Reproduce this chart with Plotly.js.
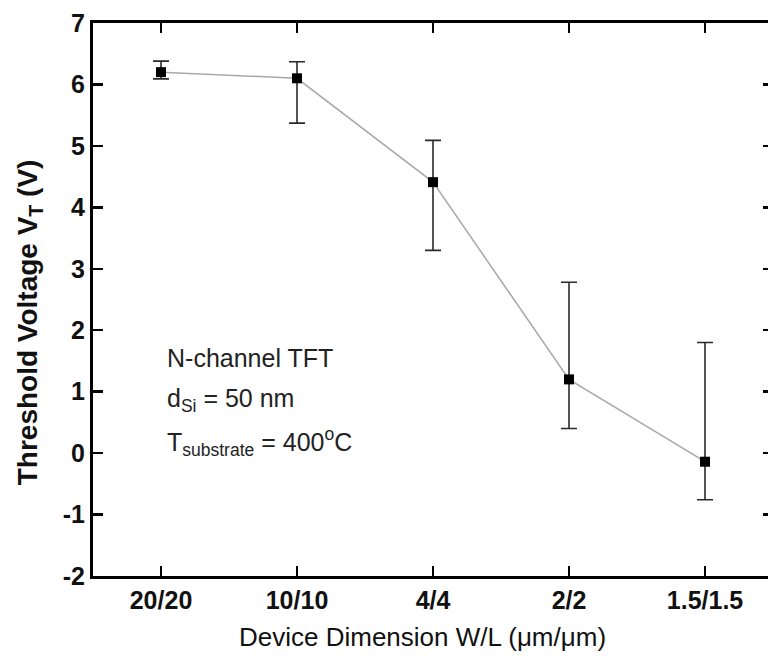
<!DOCTYPE html>
<html>
<head>
<meta charset="utf-8">
<script src="https://cdn.plot.ly/plotly-3.0.1.min.js"></script>
<style>
html,body{margin:0;padding:0;overflow:hidden;background:#fff;}
#chart{width:780px;height:660px;}
</style>
</head>
<body>
<div id="chart"></div>
<script>
// Data
var categories = ["20/20", "10/10", "4/4", "2/2", "1.5/1.5"];
var vtValues   = [6.20, 6.10, 4.41, 1.20, -0.14];
var errTop     = [6.38, 6.37, 5.09, 2.78, 1.80];
var errBottom  = [6.09, 5.37, 3.30, 0.40, -0.76];
var yTicks     = [-2, -1, 0, 1, 2, 3, 4, 5, 6, 7];

var errPlus  = errTop.map(function(t, i){ return +(t - vtValues[i]).toFixed(3); });
var errMinus = errBottom.map(function(b, i){ return +(vtValues[i] - b).toFixed(3); });

var trace = {
  x: categories,
  y: vtValues,
  type: 'scatter',
  mode: 'lines+markers',
  line: {color: '#a8a8a8', width: 1.5},
  marker: {symbol: 'square', size: 10, color: '#000'},
  error_y: {
    type: 'data',
    symmetric: false,
    array: errPlus,
    arrayminus: errMinus,
    color: '#2a2a2a',
    thickness: 1.6,
    width: 8
  },
  showlegend: false,
  hoverinfo: 'x+y'
};

var axisFont = {family: 'Liberation Sans, Arial, sans-serif', size: 25, color: '#111', weight: 'bold'};
var noteFont = {family: 'Liberation Sans, Arial, sans-serif', size: 25, color: '#222'};

var layout = {
  width: 780,
  height: 660,
  margin: {l: 93, r: 7, t: 23, b: 84},
  paper_bgcolor: '#fff',
  plot_bgcolor: '#fff',
  xaxis: {
    type: 'category',
    categoryorder: 'array',
    categoryarray: categories,
    range: [-0.5, 4.5],
    showline: true, linecolor: '#000', linewidth: 3,
    mirror: 'ticks',
    ticks: 'inside', ticklen: 10, tickwidth: 2.5, tickcolor: '#000',
    tickfont: axisFont,
    showgrid: false, zeroline: false
  },
  yaxis: {
    range: [-2, 7],
    tickvals: yTicks,
    ticktext: yTicks.map(String),
    showline: true, linecolor: '#000', linewidth: 3,
    mirror: 'ticks',
    ticks: 'inside', ticklen: 10, tickwidth: 2.5, tickcolor: '#000',
    tickfont: axisFont,
    showgrid: false, zeroline: false
  },
  annotations: [
    {xref: 'paper', yref: 'paper', x: 0.484, y: -0.11, xanchor: 'center', yanchor: 'middle',
     text: 'Device Dimension W/L (\u03bcm/\u03bcm)', showarrow: false,
     font: {family: 'Liberation Sans, Arial, sans-serif', size: 26, color: '#111'}},
    {xref: 'paper', yref: 'paper', x: -0.094, y: 0.459, xanchor: 'center', yanchor: 'middle',
     textangle: -90,
     text: 'Threshold Voltage V<sub>T</sub> (V)', showarrow: false,
     font: {family: 'Liberation Sans, Arial, sans-serif', size: 28, color: '#111', weight: 'bold'}},
    {xref: 'paper', yref: 'paper', x: 0.106, y: 0.394, xanchor: 'left', yanchor: 'middle',
     text: 'N-channel TFT', showarrow: false, font: noteFont},
    {xref: 'paper', yref: 'paper', x: 0.106, y: 0.318, xanchor: 'left', yanchor: 'middle',
     text: 'd<sub>Si</sub> = 50 nm', showarrow: false, font: noteFont},
    {xref: 'paper', yref: 'paper', x: 0.106, y: 0.242, xanchor: 'left', yanchor: 'middle',
     text: 'T<sub>substrate</sub> = 400<sup>o</sup>C', showarrow: false, font: noteFont}
  ]
};

Plotly.newPlot('chart', [trace], layout, {displayModeBar: false, staticPlot: true});
</script>
</body>
</html>
